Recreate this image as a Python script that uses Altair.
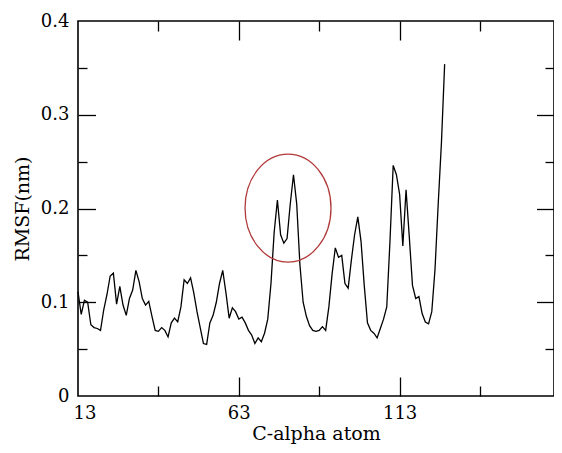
import altair as alt
import pandas as pd

# ---- data ----
residues = list(range(13, 128))
rmsf = [
    0.111, 0.087, 0.102, 0.100, 0.076, 0.073, 0.072, 0.070, 0.092, 0.108,  # 13-22
    0.128, 0.131, 0.098, 0.117, 0.097, 0.086, 0.104, 0.113, 0.134, 0.122,  # 23-32
    0.104, 0.097, 0.101, 0.085, 0.070, 0.069, 0.073, 0.070, 0.063, 0.078,  # 33-42
    0.083, 0.079, 0.095, 0.124, 0.120, 0.126, 0.110, 0.090, 0.073, 0.056,  # 43-52
    0.055, 0.078, 0.086, 0.100, 0.120, 0.134, 0.110, 0.083, 0.094, 0.090,  # 53-62
    0.082, 0.084, 0.078, 0.070, 0.065, 0.056, 0.062, 0.058, 0.067, 0.082,  # 63-72
    0.120, 0.175, 0.209, 0.172, 0.163, 0.168, 0.205, 0.236, 0.205, 0.140,  # 73-82
    0.100, 0.085, 0.075, 0.070, 0.069, 0.070, 0.074, 0.070, 0.095, 0.130,  # 83-92
    0.158, 0.148, 0.150, 0.120, 0.115, 0.145, 0.172, 0.191, 0.165, 0.118,  # 93-102
    0.078, 0.070, 0.067, 0.062, 0.072, 0.082, 0.095, 0.165, 0.246, 0.236,  # 103-112
    0.215, 0.160, 0.220, 0.170, 0.118, 0.104, 0.106, 0.088, 0.079, 0.077,  # 113-122
    0.090, 0.135, 0.205, 0.270, 0.354,                                     # 123-127
]

x_label_values = [13, 63, 113]
x_major = [63, 113]
x_minor = [38, 88, 138]
y_label_values = [0, 0.1, 0.2, 0.3, 0.4]
y_major = [0.1, 0.2, 0.3]
y_minor = [0.05, 0.15, 0.25, 0.35]

circle_x = [78.3]
circle_y = [0.2005]

df = pd.DataFrame({"atom": residues, "rmsf": rmsf})
ann = pd.DataFrame({"atom": circle_x, "rmsf": circle_y})

W, H = 476, 375
X_MAX = 161
FONT = "DejaVu Serif"
xs = alt.Scale(domain=[13, X_MAX], nice=False, zero=False)
ys = alt.Scale(domain=[0, 0.4], nice=False, zero=False)

MAJOR_X, MINOR_X = 19, 10
MAJOR_Y, MINOR_Y = 17.5, 9


def tick_axis(orient, values, size, offset):
    return alt.Axis(
        orient=orient, values=values, tickSize=size, offset=offset,
        labels=False, domain=False, grid=False, ticks=True, title=None,
        tickColor="black", tickWidth=1.3,
    )


base = alt.Chart(df)

line = base.mark_line(color="black", strokeWidth=1.3).encode(
    x=alt.X(
        "atom:Q", scale=xs,
        axis=alt.Axis(
            orient="bottom", values=x_label_values, ticks=False, domain=False,
            grid=False, labelFont=FONT, labelFontSize=18, labelColor="black",
            labelPadding=8, labelFlush=True, labelFlushOffset=5,
            title="C-alpha atom", titleFont=FONT, titleFontSize=19,
            titleFontWeight="normal", titleColor="black",
            titleBaseline="alphabetic", titleY=43,
        ),
    ),
    y=alt.Y(
        "rmsf:Q", scale=ys,
        axis=alt.Axis(
            orient="left", values=y_label_values, format=".1~f", ticks=False,
            domain=False, grid=False, labelFont=FONT, labelFontSize=18,
            labelColor="black", labelPadding=9,
            title="RMSF(nm)", titleFont=FONT, titleFontSize=19,
            titleFontWeight="normal", titleColor="black",
            titleBaseline="alphabetic", titleX=-50,
        ),
    ),
)

ellipse_path = (
    "M 0.796 0 C 0.796 0.5523 0.4396 1 0 1 C -0.4396 1 -0.796 0.5523 -0.796 0 "
    "C -0.796 -0.5523 -0.4396 -1 0 -1 C 0.4396 -1 0.796 -0.5523 0.796 0 Z"
)

circle = alt.Chart(ann).mark_point(
    shape=ellipse_path, filled=False, stroke="#b03a3a", strokeWidth=1.3,
    opacity=1, size=11664,
).encode(
    x=alt.X("atom:Q", scale=xs, axis=tick_axis("bottom", x_major, MAJOR_X, -H)),
    y=alt.Y("rmsf:Q", scale=ys, axis=tick_axis("left", y_major, MAJOR_Y, -W)),
)

ghost1 = base.mark_line(opacity=0).encode(
    x=alt.X("atom:Q", scale=xs, axis=tick_axis("bottom", x_minor, MINOR_X, -H)),
    y=alt.Y("rmsf:Q", scale=ys, axis=tick_axis("left", y_minor, MINOR_Y, -W)),
)
ghost2 = base.mark_line(opacity=0).encode(
    x=alt.X("atom:Q", scale=xs, axis=tick_axis("top", x_major, MAJOR_X, -H)),
    y=alt.Y("rmsf:Q", scale=ys, axis=tick_axis("right", y_major, MAJOR_Y, -W)),
)
ghost3 = base.mark_line(opacity=0).encode(
    x=alt.X("atom:Q", scale=xs, axis=tick_axis("top", x_minor, MINOR_X, -H)),
    y=alt.Y("rmsf:Q", scale=ys, axis=tick_axis("right", y_minor, MINOR_Y, -W)),
)

chart = (
    alt.layer(line, circle, ghost1, ghost2, ghost3)
    .resolve_axis(x="independent", y="independent")
    .properties(
        width=W, height=H,
        autosize=alt.AutoSizeParams(type="none"),
        padding={"left": 70, "top": 13, "right": 0, "bottom": 48},
        background="white",
    )
    .configure_view(stroke="black", strokeWidth=1.6)
)

chart.save("out.html", embed_options={"renderer": "svg", "actions": False})
